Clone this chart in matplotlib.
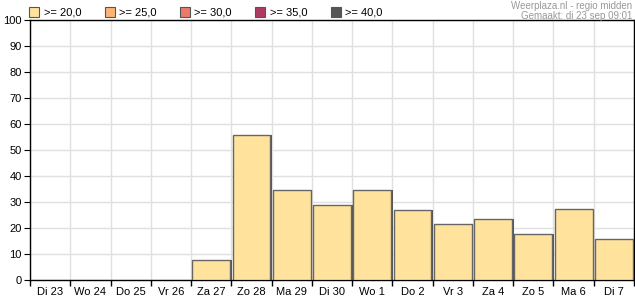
import matplotlib
matplotlib.use('Agg')
import matplotlib.pyplot as plt
from matplotlib.patches import Patch
import numpy as np

days = ['Di 23', 'Wo 24', 'Do 25', 'Vr 26', 'Za 27', 'Zo 28', 'Ma 29', 'Di 30',
        'Wo 1', 'Do 2', 'Vr 3', 'Za 4', 'Zo 5', 'Ma 6', 'Di 7']
values = [0, 0, 0, 0, 7.7, 55.8, 34.6, 28.8, 34.6, 26.9, 21.5, 23.5, 17.7, 27.3, 15.8]
legend_labels = ['>= 20,0', '>= 25,0', '>= 30,0', '>= 35,0', '>= 40,0']
legend_colors = ['#FFE29C', '#FDB474', '#EC7A6A', '#B03A62', '#555555']

plt.rcParams['font.family'] = ['Liberation Sans', 'DejaVu Sans']

fig = plt.figure(figsize=(6.35, 3.0), dpi=100)
ax = fig.add_axes([30 / 635, 20 / 300, 604 / 635, 260 / 300])

x = np.arange(len(days))
vals = np.array(values)
shown = vals > 0
# shadow behind the bars
ax.bar(x[shown] + 0.04, vals[shown], width=0.94, color='#555555', edgecolor='none', zorder=2)
ax.bar(x[shown], vals[shown], width=0.94, color='#FFE29C', edgecolor='#666666', linewidth=1.0, zorder=3)

ax.set_xlim(-0.5, len(days) - 0.5)
ax.set_ylim(0, 100)
ax.set_yticks(range(0, 101, 10))
ax.set_xticks(x)
ax.set_xticklabels(days)
ax.set_xticks(np.arange(-0.5, len(days), 1), minor=True)
ax.tick_params(axis='x', which='major', length=0, labelsize=8, pad=5)
ax.tick_params(axis='x', which='minor', length=4, direction='out', width=1)
ax.tick_params(axis='y', length=4, labelsize=8, pad=2)
ax.grid(True, which='minor', axis='x', color='#E0E0E0', linewidth=1, zorder=0)
ax.grid(True, which='major', axis='y', color='#E0E0E0', linewidth=1, zorder=0)
ax.set_axisbelow(True)
for s in ax.spines.values():
    s.set_color('black')
    s.set_linewidth(1)

handles = [Patch(facecolor=c, edgecolor='#555555', linewidth=0.8) for c in legend_colors]
fig.legend(handles, legend_labels, loc='upper left', bbox_to_anchor=(25 / 635, 0.99),
           ncol=5, frameon=False, fontsize=8, handlelength=0.9, handleheight=0.9,
           handletextpad=0.4, columnspacing=2.1, borderaxespad=0)

fig.text(632 / 635, 1 - 6 / 300, 'Weerplaza.nl - regio midden', ha='right', va='center',
         fontsize=7, color='#999999')
fig.text(632 / 635, 1 - 16 / 300, 'Gemaakt: di 23 sep 09:01', ha='right', va='center',
         fontsize=7, color='#999999')

fig.savefig('out.png', dpi=100)
